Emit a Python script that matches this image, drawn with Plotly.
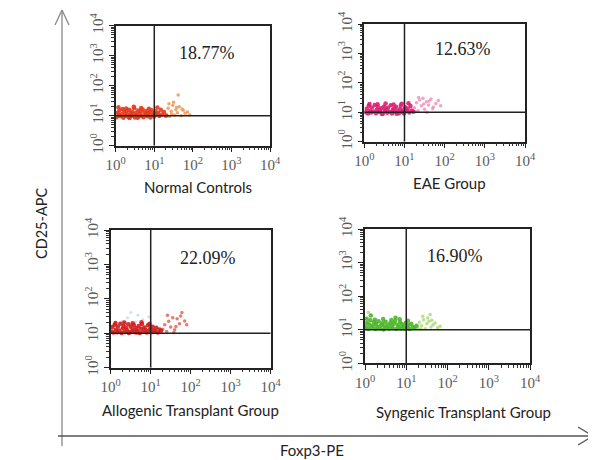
import numpy as np
import plotly.graph_objects as go

W, H = 596, 460
PAGE_OFFSET = 8  # the page body margin shifts the figure by this many pixels

# ---------------- data (log10 decades of fluorescence) ----------------
panel_titles = ["Normal Controls", "EAE Group", "Allogenic Transplant Group", "Syngenic Transplant Group"]
percent_labels = ["18.77%", "12.63%", "22.09%", "16.90%"]
tick_vals = [1, 10, 100, 1000, 10000]
tick_text = ["10<sup>0</sup>", "10<sup>1</sup>", "10<sup>2</sup>", "10<sup>3</sup>", "10<sup>4</sup>"]
gate_x = 10
gate_y = 10

# Normal controls
nc_core_x = [0.02,0.05,0.08,0.10,0.12,0.15,0.18,0.20,0.22,0.25,0.28,0.30,0.33,0.35,0.38,0.40,0.42,0.45,0.48,0.50,
             0.52,0.55,0.58,0.60,0.62,0.65,0.68,0.70,0.72,0.75,0.78,0.80,0.82,0.85,0.88,0.90,0.92,0.95,0.98,1.00,
             1.03,1.06,1.10,1.13,1.17,1.20,1.25,1.30,0.07,0.27,0.47,0.66,0.86,1.08,0.36,0.57]
nc_core_y = [0.95,1.10,1.02,1.18,0.98,1.05,1.22,0.93,1.12,1.00,1.15,1.03,0.96,1.20,1.08,0.99,1.13,1.04,1.25,0.94,
             1.09,1.01,1.17,0.97,1.06,1.14,1.00,1.21,0.95,1.10,1.03,1.16,0.98,1.07,1.12,0.94,1.19,1.02,1.08,0.97,
             1.15,1.05,1.10,0.99,1.20,1.04,1.12,1.00,1.28,1.24,1.30,1.26,1.23,1.27,0.92,0.93]
nc_tail_x = [1.32,1.36,1.40,1.44,1.48,1.52,1.56,1.60,1.65,1.70,1.75,1.80,1.86,1.92,1.38,1.50,1.62,1.58,1.45,1.72]
nc_tail_y = [1.05,1.25,0.97,1.15,1.35,1.02,1.20,1.10,1.30,1.00,1.18,1.08,1.12,1.03,1.40,1.45,1.69,1.28,1.06,1.22]

# EAE group
eae_core_x = [0.03,0.06,0.09,0.11,0.14,0.17,0.19,0.23,0.26,0.29,0.31,0.34,0.37,0.39,0.43,0.46,0.49,0.51,0.54,0.57,
              0.59,0.63,0.66,0.69,0.71,0.74,0.77,0.79,0.83,0.86,0.89,0.91,0.94,0.97,0.99,1.02,1.05,1.08,1.12,1.15,
              1.18,1.22,0.13,0.33,0.53,0.73,0.93,1.10,0.44,0.81]
eae_core_y = [1.00,1.12,0.96,1.22,1.05,0.99,1.16,1.03,1.25,0.97,1.09,1.18,1.01,1.06,1.14,0.95,1.20,1.04,1.10,0.98,
              1.15,1.02,1.24,0.96,1.08,1.13,1.00,1.19,1.05,0.97,1.11,1.23,1.01,1.07,0.96,1.17,1.04,1.12,0.99,1.21,
              1.06,1.02,1.28,1.27,1.30,1.26,1.29,1.31,0.94,0.95]
eae_tail_x = [1.25,1.30,1.34,1.38,1.42,1.46,1.50,1.55,1.60,1.66,1.72,1.78,1.84,1.90,1.35,1.48,1.62,1.70,1.28,1.56]
eae_tail_y = [1.15,1.32,1.05,1.42,1.22,1.48,1.10,1.36,1.25,1.45,1.18,1.30,1.40,1.22,1.50,1.28,1.38,1.12,1.02,1.00]

# Allogenic transplant group
al_core_x = [0.02,0.04,0.07,0.10,0.13,0.16,0.18,0.21,0.24,0.27,0.30,0.32,0.35,0.38,0.41,0.44,0.47,0.50,0.53,0.56,
             0.58,0.61,0.64,0.67,0.70,0.73,0.76,0.78,0.81,0.84,0.87,0.90,0.93,0.96,0.99,1.02,1.05,1.08,1.11,1.14,
             1.18,1.22,1.26,0.12,0.34,0.55,0.77,0.97,0.45,0.66]
al_core_y = [1.05,1.18,1.02,1.25,1.10,1.03,1.20,1.08,1.28,1.01,1.14,1.22,1.04,1.16,1.09,1.26,1.02,1.19,1.06,1.12,
             1.24,1.03,1.15,1.08,1.21,1.01,1.13,1.27,1.05,1.17,1.10,1.02,1.23,1.07,1.14,1.03,1.19,1.09,1.05,1.16,
             1.02,1.11,1.07,1.30,1.31,1.29,1.32,1.28,1.01,1.02]
al_tail_x = [1.30,1.35,1.40,1.45,1.50,1.55,1.60,1.66,1.72,1.78,1.85,1.90,1.42,1.58,1.75,1.63]
al_tail_y = [1.12,1.25,1.05,1.35,1.18,1.45,1.10,1.42,1.28,1.60,1.36,1.25,1.52,1.02,1.50,1.20]
al_blue_x = [0.30,0.42,0.55,0.68,0.80,0.50,0.62,0.95]
al_blue_y = [1.35,1.45,1.28,1.52,1.40,1.60,1.33,1.48]

# Syngenic transplant group
sy_core_x = [0.02,0.05,0.08,0.11,0.13,0.16,0.19,0.22,0.25,0.27,0.30,0.33,0.36,0.39,0.42,0.45,0.47,0.50,0.53,0.56,
             0.59,0.62,0.65,0.67,0.70,0.73,0.76,0.79,0.82,0.85,0.87,0.90,0.93,0.96,0.99,1.02,1.05,1.08,1.12,1.16,
             1.20,1.25,0.04,0.24,0.44,0.64,0.84,1.04,0.14,0.74]
sy_core_y = [1.08,1.20,1.03,1.15,1.28,1.06,1.12,1.22,1.02,1.17,1.09,1.25,1.04,1.13,1.19,1.01,1.10,1.24,1.06,1.15,
             1.03,1.21,1.11,1.05,1.18,1.26,1.02,1.14,1.08,1.22,1.04,1.16,1.10,1.03,1.20,1.07,1.13,1.02,1.18,1.09,
             1.05,1.12,1.33,1.30,1.32,1.29,1.31,1.27,1.42,1.36]
sy_tail_x = [1.28,1.32,1.37,1.42,1.46,1.50,1.55,1.60,1.65,1.70,1.76,1.82,1.40,1.52,1.62,1.35,1.58,0.08]
sy_tail_y = [1.05,1.22,1.12,1.30,1.03,1.18,1.25,1.08,1.15,1.20,1.06,1.10,1.40,1.35,1.28,1.02,1.45,1.52]

panels = [
    dict(core=(nc_core_x, nc_core_y), tail=(nc_tail_x, nc_tail_y), extra=None,
         core_color="#e23a1c", tail_color="#f0904a",
         dom_px=(115.7, 270.0, 25.7, 145.7), pct_px=(207, 53), lab_px=(198, 187)),
    dict(core=(eae_core_x, eae_core_y), tail=(eae_tail_x, eae_tail_y), extra=None,
         core_color="#dc1f72", tail_color="#f08cb8",
         dom_px=(364.3, 525.0, 24.0, 141.7), pct_px=(463, 49), lab_px=(449, 183)),
    dict(core=(al_core_x, al_core_y), tail=(al_tail_x, al_tail_y), extra=(al_blue_x, al_blue_y),
         core_color="#d41c1c", tail_color="#e45a4a",
         dom_px=(110.7, 270.7, 230.0, 367.7), pct_px=(208, 258), lab_px=(190, 410)),
    dict(core=(sy_core_x, sy_core_y), tail=(sy_tail_x, sy_tail_y), extra=None,
         core_color="#4cb52a", tail_color="#a6d96a",
         dom_px=(365.0, 530.0, 229.0, 363.3), pct_px=(455, 256), lab_px=(463, 412)),
]

def px2x(p):
    return (p - PAGE_OFFSET) / W

def px2y(p):
    return 1 - (p - PAGE_OFFSET) / H

fig = go.Figure()
minor_vals = [m * 10 ** d for d in range(4) for m in range(2, 10)]

for i, p in enumerate(panels):
    k = "" if i == 0 else str(i + 1)
    xa, ya = "x" + k, "y" + k
    x0, x1, y0, y1 = p["dom_px"]
    common = dict(type="log", range=[0, 4], showgrid=False, zeroline=False, automargin=False,
                  showline=True, mirror=True, linecolor="#222", linewidth=1.5,
                  ticks="outside", ticklen=5, tickwidth=1.2, tickcolor="#222",
                  tickmode="array", tickvals=tick_vals, ticktext=tick_text,
                  tickfont=dict(family="Liberation Serif", size=15, color="#5a5a5a"),
                  minor=dict(ticks="outside", ticklen=3, tickwidth=1, tickcolor="#333",
                             tickmode="array", tickvals=minor_vals))
    fig.layout["xaxis" + k] = dict(common, domain=[px2x(x0), px2x(x1)], anchor=ya)
    fig.layout["yaxis" + k] = dict(common, domain=[px2y(y1), px2y(y0)], anchor=xa, tickangle=-90)

    tx, ty = p["tail"]
    fig.add_trace(go.Scatter(x=np.power(10.0, tx), y=np.power(10.0, ty), mode="markers",
                             marker=dict(size=3.5, color=p["tail_color"], opacity=0.8),
                             xaxis=xa, yaxis=ya, hoverinfo="skip", showlegend=False))
    if p["extra"] is not None:
        ex, ey = p["extra"]
        fig.add_trace(go.Scatter(x=np.power(10.0, ex), y=np.power(10.0, ey), mode="markers",
                                 marker=dict(size=3, color="#b8d4ec", opacity=0.7),
                                 xaxis=xa, yaxis=ya, hoverinfo="skip", showlegend=False))
    cx, cy = p["core"]
    fig.add_trace(go.Scatter(x=np.power(10.0, cx), y=np.power(10.0, cy), mode="markers",
                             marker=dict(size=4.5, color=p["core_color"], opacity=0.9),
                             xaxis=xa, yaxis=ya, hoverinfo="skip", showlegend=False))
    # quadrant gate lines
    fig.add_trace(go.Scatter(x=[gate_x, gate_x], y=[1, 10000], mode="lines",
                             line=dict(color="#222", width=1.5), xaxis=xa, yaxis=ya,
                             hoverinfo="skip", showlegend=False))
    fig.add_trace(go.Scatter(x=[1, 10000], y=[gate_y, gate_y], mode="lines",
                             line=dict(color="#222", width=1.5), xaxis=xa, yaxis=ya,
                             hoverinfo="skip", showlegend=False))

    fig.add_annotation(x=px2x(p["pct_px"][0]), y=px2y(p["pct_px"][1]), xref="paper", yref="paper",
                       xanchor="center", yanchor="middle",
                       text=percent_labels[i], showarrow=False,
                       font=dict(family="Liberation Serif", size=18, color="#222"))
    fig.add_annotation(x=px2x(p["lab_px"][0]), y=px2y(p["lab_px"][1]), xref="paper", yref="paper",
                       xanchor="center", yanchor="middle",
                       text=panel_titles[i], showarrow=False,
                       font=dict(family="Lato", size=15, color="#222"))

# big outer axes with arrows
shapes = []
def seg(xa_, ya_, xb_, yb_, color="#888", width=1.3):
    shapes.append(dict(type="line", xref="paper", yref="paper",
                       x0=px2x(xa_), y0=px2y(ya_), x1=px2x(xb_), y1=px2y(yb_),
                       line=dict(color=color, width=width)))

seg(62, 446, 62, 10)
seg(62, 10, 55, 25)
seg(62, 10, 69, 25)
seg(58, 436, 593, 436, color="#555")
seg(593, 436, 578, 427, color="#555")
seg(593, 436, 578, 445, color="#555")
fig.update_layout(shapes=shapes)

fig.add_annotation(x=px2x(42), y=px2y(224), xref="paper", yref="paper", text="CD25-APC",
                   xanchor="center", yanchor="middle",
                   textangle=-90, showarrow=False, font=dict(family="Lato", size=14.5, color="#222"))
fig.add_annotation(x=px2x(312), y=px2y(450), xref="paper", yref="paper", text="Foxp3-PE",
                   xanchor="center", yanchor="middle",
                   showarrow=False, font=dict(family="Lato", size=15, color="#222"))

fig.update_layout(width=W, height=H, margin=dict(l=0, r=0, t=0, b=0, autoexpand=False),
                  paper_bgcolor="white", plot_bgcolor="white")

fig.write_html("out.html")
